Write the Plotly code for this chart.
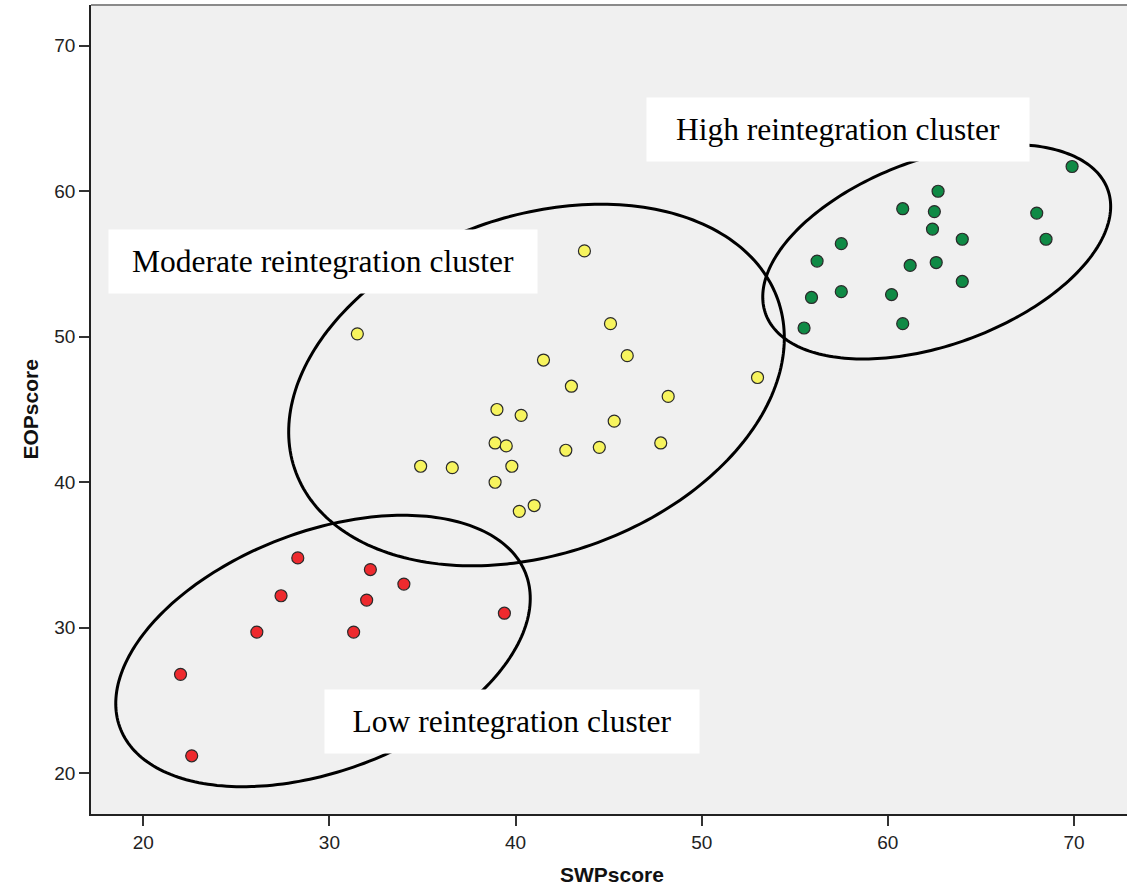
import numpy as np
import plotly.graph_objects as go

# ---------------- data ----------------
low_swp = [22.0, 22.6, 26.1, 27.4, 28.3, 31.3, 32.0, 32.2, 34.0, 39.4]
low_eop = [26.8, 21.2, 29.7, 32.2, 34.8, 29.7, 31.9, 34.0, 33.0, 31.0]

mod_swp = [43.7, 31.5, 45.1, 41.5, 46.0, 53.0, 43.0, 48.2, 39.0, 40.3, 45.3,
           38.9, 39.5, 42.7, 44.5, 47.8, 34.9, 36.6, 39.8, 38.9, 41.0, 40.2]
mod_eop = [55.9, 50.2, 50.9, 48.4, 48.7, 47.2, 46.6, 45.9, 45.0, 44.6, 44.2,
           42.7, 42.5, 42.2, 42.4, 42.7, 41.1, 41.0, 41.1, 40.0, 38.4, 38.0]

high_swp = [69.9, 62.7, 60.8, 62.5, 68.0, 62.4, 64.0, 57.5, 68.5, 56.2, 61.2,
            62.6, 64.0, 57.5, 60.2, 55.9, 60.8, 55.5]
high_eop = [61.7, 60.0, 58.8, 58.6, 58.5, 57.4, 56.7, 56.4, 56.7, 55.2, 54.9,
            55.1, 53.8, 53.1, 52.9, 52.7, 50.9, 50.6]

tick_vals = [20, 30, 40, 50, 60, 70]
x_title = "SWPscore"
y_title = "EOPscore"
cluster_labels = ["High reintegration cluster",
                  "Moderate reintegration cluster",
                  "Low reintegration cluster"]

# ---------------- geometry ----------------
W, H = 1127, 896
PL, PR, PT, PB = 91, 1127, 5, 814
XR = [17.19, 72.85]
YR = [17.20, 72.80]


def px_to_x(px):
    return XR[0] + (np.asarray(px) - PL) / (PR - PL) * (XR[1] - XR[0])


def py_to_y(py):
    return YR[1] - (np.asarray(py) - PT) / (PB - PT) * (YR[1] - YR[0])


def ellipse_path(cx, cy, a, b, theta_deg, n=240):
    t = np.linspace(0, 2 * np.pi, n)
    th = np.radians(theta_deg)
    px = cx + a * np.cos(t) * np.cos(th) - b * np.sin(t) * np.sin(th)
    py = cy - (a * np.cos(t) * np.sin(th) + b * np.sin(t) * np.cos(th))
    xs, ys = px_to_x(px), py_to_y(py)
    return "M " + " L ".join(f"{x:.4f},{y:.4f}" for x, y in zip(xs, ys)) + " Z"


fig = go.Figure()

marker_line = dict(color="#2a2a2a", width=1.2)
for xs, ys, col in [(low_swp, low_eop, "#EE2A2E"),
                    (mod_swp, mod_eop, "#F7F45E"),
                    (high_swp, high_eop, "#0F8A45")]:
    fig.add_trace(go.Scatter(x=xs, y=ys, mode="markers",
                             marker=dict(size=12, color=col, line=marker_line),
                             showlegend=False, hoverinfo="x+y"))

shapes = []
for (cx, cy, a, b, th) in [(323, 651, 217, 119.5, 20.8),
                           (536.5, 385, 256, 169, 19.5),
                           (936.7, 251.7, 182, 93, 20.0)]:
    shapes.append(dict(type="path", path=ellipse_path(cx, cy, a, b, th),
                       xref="x", yref="y", line=dict(color="black", width=3),
                       layer="above"))
shapes.append(dict(type="line", xref="paper", yref="paper", x0=0, x1=1, y0=1, y1=1,
                   line=dict(color="#8a8a8a", width=2)))

annotations = []
# label boxes (pixel boxes: center x, center y, width, height)
for text, (bx, by, bw, bh) in zip(cluster_labels,
                                  [(838, 129.5, 382, 62.5),
                                   (323, 261.4, 428, 62.7),
                                   (512, 721.4, 374, 62.7)]):
    annotations.append(dict(text=text, x=float(px_to_x(bx)), y=float(py_to_y(by)),
                            xref="x", yref="y", xanchor="center", yanchor="middle",
                            width=bw, height=bh, bgcolor="white", borderpad=0,
                            showarrow=False, align="center", valign="middle",
                            font=dict(family="Liberation Serif", size=31.5, color="black")))

annotations.append(dict(text=f"<b>{x_title}</b>", xref="paper", yref="paper",
                        x=(612 - PL) / (PR - PL), y=0, yshift=-60,
                        xanchor="center", yanchor="middle", showarrow=False,
                        font=dict(family="Liberation Sans", size=21, color="#111")))
annotations.append(dict(text=f"<b>{y_title}</b>", xref="paper", yref="paper",
                        x=0, xshift=-61, y=0.5, textangle=-90,
                        xanchor="center", yanchor="middle", showarrow=False,
                        font=dict(family="Liberation Sans", size=21, color="#111")))

axis_common = dict(showgrid=False, zeroline=False, showline=True, linecolor="#222",
                   linewidth=1.5, ticks="outside", ticklen=10, tickwidth=1.5,
                   tickcolor="#333", tickvals=tick_vals,
                   tickfont=dict(family="Liberation Sans", size=19, color="#222"))

fig.update_layout(
    width=W, height=H, autosize=False,
    margin=dict(l=PL, r=W - PR, t=PT, b=H - PB),
    paper_bgcolor="white", plot_bgcolor="#F0F0F0",
    xaxis=dict(range=XR, **axis_common),
    yaxis=dict(range=YR, **axis_common),
    shapes=shapes, annotations=annotations,
)

fig.write_html("out.html",
               config={"displayModeBar": False},
               post_script="document.body.style.margin='0';"
                           "document.body.style.overflow='hidden';")
